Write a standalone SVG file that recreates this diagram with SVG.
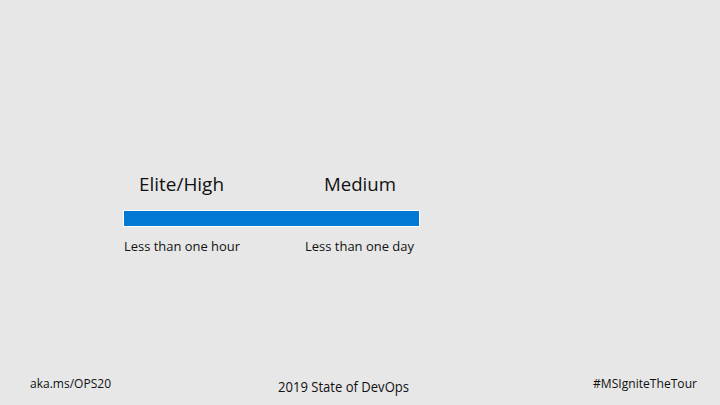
<svg xmlns="http://www.w3.org/2000/svg" width="720" height="405" viewBox="0 0 720 405">
  <style>
    text { font-family: "Open Sans", "Noto Sans", "Liberation Sans", sans-serif; fill: #111111; }
    .head { font-size: 19px; }
    .sub { font-size: 13px; }
    .foot { font-size: 12.5px; }
    .title { font-size: 14px; }
  </style>
  <rect width="720" height="405" fill="#e7e7e7"/>
  <g id="timeline">
    <rect x="123.5" y="210.5" width="296" height="16" fill="#0078d4" stroke="#ffffff" stroke-width="1"/>
  </g>
  <g id="elite-high">
    <text class="head" x="139" y="191" textLength="85" lengthAdjust="spacingAndGlyphs">Elite/High</text>
    <text class="sub" x="124" y="251" textLength="116" lengthAdjust="spacingAndGlyphs">Less than one hour</text>
  </g>
  <g id="medium">
    <text class="head" x="324" y="191" textLength="72" lengthAdjust="spacingAndGlyphs">Medium</text>
    <text class="sub" x="305" y="251" textLength="109" lengthAdjust="spacingAndGlyphs">Less than one day</text>
  </g>
  <g id="footer">
    <text class="foot" x="30" y="388" textLength="81" lengthAdjust="spacingAndGlyphs">aka.ms/OPS20</text>
    <text class="title" x="278" y="392" textLength="131" lengthAdjust="spacingAndGlyphs">2019 State of DevOps</text>
    <text class="foot" x="593" y="388" textLength="104" lengthAdjust="spacingAndGlyphs">#MSIgniteTheTour</text>
  </g>
</svg>
